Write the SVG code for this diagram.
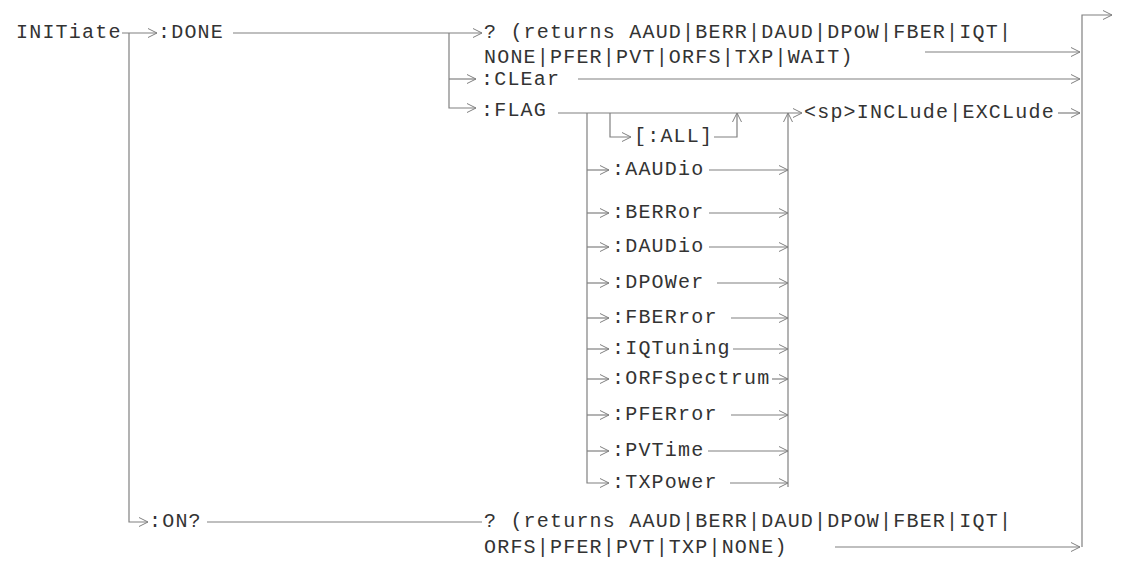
<svg xmlns="http://www.w3.org/2000/svg" width="1121" height="561" viewBox="0 0 1121 561">
<defs>
<marker id="arr" markerUnits="userSpaceOnUse" markerWidth="12" markerHeight="12" refX="9" refY="5" orient="auto">
<path d="M0,0.5 L9,5 L0,9.5" fill="none" stroke="#808080" stroke-width="1"/>
</marker>
<style>
text{font-family:"Liberation Mono","Courier New",monospace;font-size:20px;letter-spacing:1.2px;fill:#333;white-space:pre}
.c path{fill:none;stroke:#808080;stroke-width:1.2}
.a{marker-end:url(#arr)}
</style>
</defs>
<rect width="1121" height="561" fill="#fff"/>
<g id="connectors" class="c">
<path class="a" d="M122,33 H157"/>
<path class="a" d="M129,33 V522 H148"/>
<path class="a" d="M233,33 H482"/>
<path class="a" d="M449,33 V108 H476"/>
<path class="a" d="M449,79 H476"/>
<path class="a" d="M925,52 H1080"/>
<path class="a" d="M578,79 H1080"/>
<path class="a" d="M558,113 H802"/>
<path class="a" d="M610,113 V137 H631"/>
<path class="a" d="M714,137 H737 V113"/>
<path class="a" d="M587,113 V483 H609"/>
<path class="a" d="M587,170 H609"/>
<path class="a" d="M587,213 H609"/>
<path class="a" d="M587,247 H609"/>
<path class="a" d="M587,283 H609"/>
<path class="a" d="M587,318 H609"/>
<path class="a" d="M587,349 H609"/>
<path class="a" d="M587,379 H609"/>
<path class="a" d="M587,415 H609"/>
<path class="a" d="M587,451 H609"/>
<path class="a" d="M709,170 H788"/>
<path class="a" d="M709,213 H788"/>
<path class="a" d="M709,247 H788"/>
<path class="a" d="M717,283 H788"/>
<path class="a" d="M731,318 H788"/>
<path class="a" d="M733,349 H788"/>
<path class="a" d="M772,379 H788"/>
<path class="a" d="M731,415 H788"/>
<path class="a" d="M708,451 H788"/>
<path class="a" d="M730,483 H788"/>
<path class="a" d="M788,487 V113"/>
<path class="a" d="M1058,113 H1080"/>
<path class="a" d="M1082,547 V15 H1112"/>
<path d="M207,522 H482"/>
<path class="a" d="M835,547 H1080"/>
</g>
<g id="n-initiate"><text x="16" y="38">INITiate</text></g>
<g id="n-done"><text x="158" y="38">:DONE</text></g>
<g id="n-done-query"><text x="484" y="38">? (returns AAUD|BERR|DAUD|DPOW|FBER|IQT|</text><text x="484" y="63">NONE|PFER|PVT|ORFS|TXP|WAIT)</text></g>
<g id="n-clear"><text x="481" y="85">:CLEar</text></g>
<g id="n-flag"><text x="481" y="116">:FLAG</text></g>
<g id="n-all"><text x="634" y="142">[:ALL]</text></g>
<g id="n-aaudio"><text x="612" y="175">:AAUDio</text></g>
<g id="n-berror"><text x="612" y="218">:BERRor</text></g>
<g id="n-daudio"><text x="612" y="252">:DAUDio</text></g>
<g id="n-dpower"><text x="612" y="288">:DPOWer</text></g>
<g id="n-fberror"><text x="612" y="323">:FBERror</text></g>
<g id="n-iqtuning"><text x="612" y="354">:IQTuning</text></g>
<g id="n-orfspectrum"><text x="612" y="384">:ORFSpectrum</text></g>
<g id="n-pferror"><text x="612" y="420">:PFERror</text></g>
<g id="n-pvtime"><text x="612" y="456">:PVTime</text></g>
<g id="n-txpower"><text x="612" y="488">:TXPower</text></g>
<g id="n-incl"><text x="804" y="118">&lt;sp&gt;INCLude|EXCLude</text></g>
<g id="n-on"><text x="149" y="527">:ON?</text></g>
<g id="n-on-query"><text x="484" y="527">? (returns AAUD|BERR|DAUD|DPOW|FBER|IQT|</text><text x="484" y="553">ORFS|PFER|PVT|TXP|NONE)</text></g>
</svg>
